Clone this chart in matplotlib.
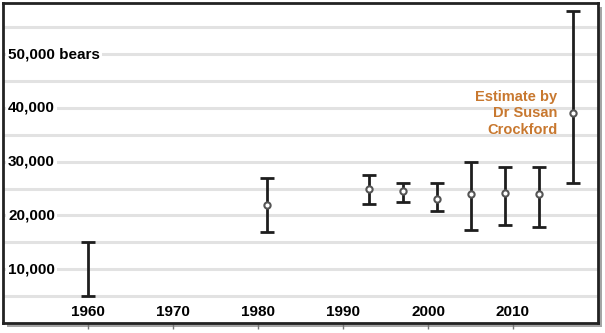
import numpy as np
import matplotlib
matplotlib.use("Agg")
import matplotlib.pyplot as plt
import matplotlib.patches as mpatches

# survey years and estimate ranges (bears)
years   = [1960, 1981, 1993, 1997, 2001, 2005, 2009, 2013, 2017]
lows    = [5000, 17000, 22200, 22500, 20800, 17200, 18300, 17900, 26000]
highs   = [15000, 27000, 27500, 26000, 26000, 30000, 29000, 29000, 58000]
centers = [None, 22000, 25000, 24600, 23100, 24000, 24200, 24000, 39000]

x_ticks = [1960, 1970, 1980, 1990, 2000, 2010]
y_labels = {10000: "10,000", 20000: "20,000", 30000: "30,000",
            40000: "40,000", 50000: "50,000 bears"}
note = "Estimate by\nDr Susan\nCrockford"

LINE_COLOR  = "#1e1e1e"
GRID_COLOR  = "#e2e2e2"
NOTE_COLOR  = "#c8782f"
FONT        = "Liberation Sans"

W, H = 605, 333
fig = plt.figure(figsize=(W / 100, H / 100), dpi=100)
fig.patch.set_facecolor("white")

left, right, top, bottom = 3, 598, 3, 323
ax = fig.add_axes([left / W, (H - bottom) / H, (right - left) / W, (bottom - top) / H])

# drop shadow behind the frame
shadow = mpatches.Rectangle(((left + 4) / W, (H - bottom - 4) / H),
                            (right - left) / W, (bottom - top) / H,
                            transform=fig.transFigure, facecolor="#a5a5a5",
                            edgecolor="none", zorder=-5)
fig.patches.append(shadow)

ax.set_facecolor("white")
ax.set_xlim(1950, 2020)
ax.set_ylim(0, 59500)

# grid lines every 5,000
for gy in range(5000, 56000, 5000):
    ax.axhline(gy, color=GRID_COLOR, lw=2.2, zorder=0)

# error bars
mids = [(lo + hi) / 2 for lo, hi in zip(lows, highs)]
yerr = [[m - lo for m, lo in zip(mids, lows)], [hi - m for m, hi in zip(mids, highs)]]
ax.errorbar(years, mids, yerr=yerr, fmt="none", ecolor=LINE_COLOR,
            elinewidth=2, capsize=5, capthick=2, zorder=3)

cx = [yr for yr, c in zip(years, centers) if c is not None]
cy = [c for c in centers if c is not None]
ax.plot(cx, cy, "o", ms=4.5, mfc="white", mec="#555555", mew=1.5, zorder=4)

# y labels drawn inside the plot
for val, lab in y_labels.items():
    ax.text(1950.6, val, lab, ha="left", va="center", fontsize=11,
            fontweight="bold", family=FONT, color="#000000",
            bbox=dict(facecolor="white", edgecolor="none", pad=1.5), zorder=2)

# x labels inside the plot, ticks outside
ax.set_xticks(x_ticks)
ax.set_xticklabels([str(t) for t in x_ticks], fontsize=11, fontweight="bold",
                   family=FONT, color="#000000")
ax.tick_params(axis="x", direction="out", length=4, width=1, color="#777777",
               pad=-17)
ax.set_yticks([])

ax.text(2015.2, 39000, note, ha="right", va="center", fontsize=10.5,
        fontweight="bold", family=FONT, color=NOTE_COLOR, linespacing=1.25)

for spine in ax.spines.values():
    spine.set_linewidth(2)
    spine.set_color("#222222")

fig.savefig("out.png", dpi=100)
